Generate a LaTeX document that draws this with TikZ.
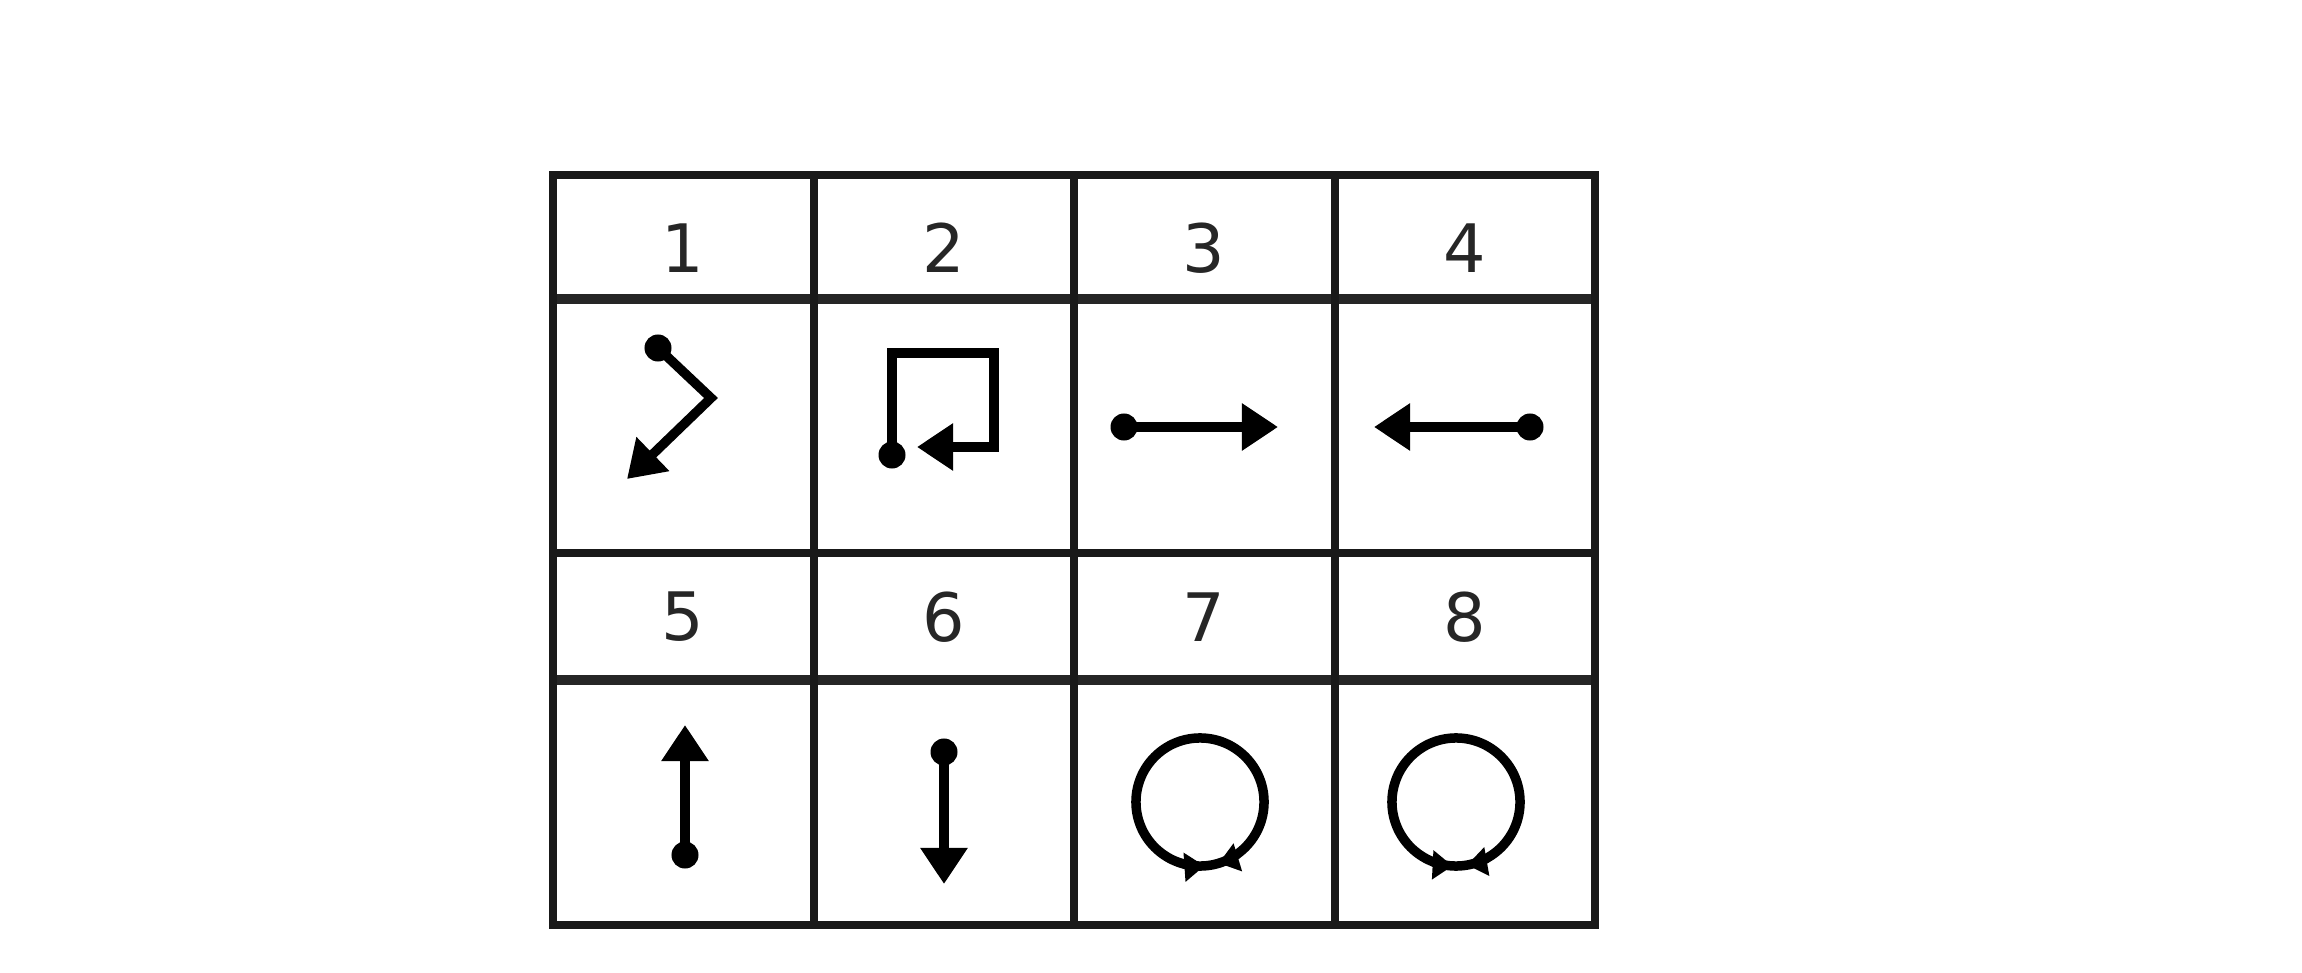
\documentclass[tikz,border=0pt]{standalone}
\usepackage{fontspec}
\setmainfont{DejaVu Sans}
\usetikzlibrary{arrows.meta}
\begin{document}
\begin{tikzpicture}[x=0.01cm,y=0.01cm,
  frameline/.style={line width=0.08cm, black!90, line cap=rect},
  gridline/.style={line width=0.08cm, black!90, line cap=butt},
  hline/.style={line width=0.095cm, black!85, line cap=butt},
  hdr/.style={font=\fontsize{19}{23}\selectfont, inner sep=0pt, text=black!85},
  dotnode/.style={circle, fill=black, minimum size=0.27cm, inner sep=0pt},
  symline/.style={line width=0.095cm, black, line join=miter},
  arr/.style={symline, -{Triangle[length=0.36cm, width=0.45cm]}},
  ring/.style={circle, draw=black, line width=0.095cm, minimum size=1.28cm, inner sep=0pt},
  tick/.style={symline, -{Triangle[length=0.2cm, width=0.28cm]}}
]
\useasboundingbox (0,0) rectangle (2302,972);
\fill[white] (0,0) rectangle (2302,972);
% table grid
\foreach \y in {673,292} \draw[hline] (553,\y) -- (1595,\y);
\draw[gridline] (553,419) -- (1595,419);
\foreach \x in {813.5,1074,1334.5} \draw[gridline] (\x,47) -- (\x,797);
\draw[frameline] (553,47) rectangle (1595,797);
% headers
\node[hdr] (h1) at (683,724) {1};
\node[hdr] (h2) at (944,724) {2};
\node[hdr] (h3) at (1204,724) {3};
\node[hdr] (h4) at (1465,724) {4};
\node[hdr] (h5) at (683,355) {5};
\node[hdr] (h6) at (944,355) {6};
\node[hdr] (h7) at (1204,355) {7};
\node[hdr] (h8) at (1465,355) {8};
% cell 1
\node[dotnode] (d1) at (658,624) {};
\coordinate (b1) at (711,574);
\coordinate (t1) at (627,493);
\draw[arr] (d1.center) -- (b1) -- (t1);
% cell 2
\node[dotnode] (d2) at (892,517) {};
\coordinate (b2a) at (892,619);
\coordinate (b2b) at (994,619);
\coordinate (b2c) at (994,525);
\coordinate (t2) at (917,525);
\draw[arr] (d2.center) -- (b2a) -- (b2b) -- (b2c) -- (t2);
% cell 3
\node[dotnode] (d3) at (1124,545) {};
\coordinate (t3) at (1278,545);
\draw[arr] (d3.center) -- (t3);
% cell 4
\node[dotnode] (d4) at (1530,545) {};
\coordinate (t4) at (1374,545);
\draw[arr] (d4.center) -- (t4);
% cell 5
\node[dotnode] (d5) at (685,117) {};
\coordinate (t5) at (685,247);
\draw[arr] (d5.center) -- (t5);
% cell 6
\node[dotnode] (d6) at (944,220) {};
\coordinate (t6) at (944,88);
\draw[arr] (d6.center) -- (t6);
% cell 7
\node[ring] (c7) at (1200,170) {};
\draw[tick] (c7.center) ++(255:64) arc[start angle=255, end angle=274, radius=64];
\draw[tick] (c7.center) ++(306:64) arc[start angle=306, end angle=287, radius=64];
% cell 8
\node[ring] (c8) at (1456,170) {};
\draw[tick] (c8.center) ++(248:64) arc[start angle=248, end angle=267, radius=64];
\draw[tick] (c8.center) ++(299:64) arc[start angle=299, end angle=280, radius=64];
\end{tikzpicture}
\end{document}
